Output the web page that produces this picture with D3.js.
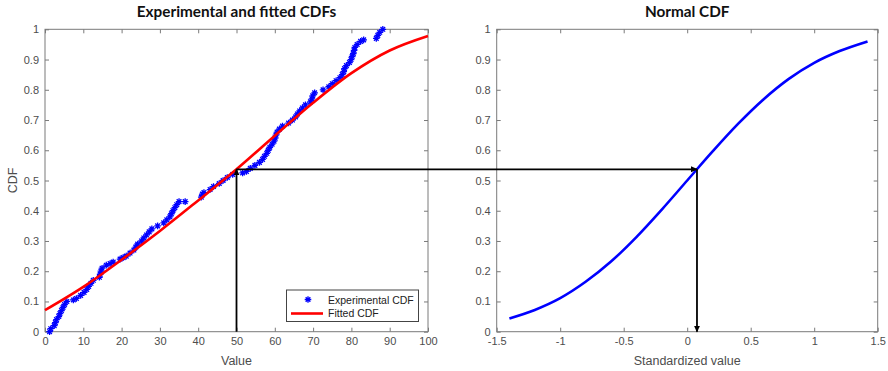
<!DOCTYPE html>
<html>
<head>
<meta charset="utf-8">
<script src="https://cdn.jsdelivr.net/npm/d3@7/dist/d3.min.js"></script>
<style>
  html, body { margin: 0; padding: 0; background: #fff; }
  svg { display: block; }
  .tick text { font-family: "Liberation Sans", Arial, sans-serif; font-size: 11px; fill: #4d4d4d; }
  .tick line { stroke: #7a7a7a; }
</style>
</head>
<body>
<svg id="chart" width="888" height="371"></svg>
<script>
// Experimental CDF samples (sorted values and their cumulative probabilities)
const expValues = [1.2, 1.5, 2.4, 2.7, 3.0, 3.6, 3.9, 4.3, 4.7, 5.1,
  5.7, 7.4, 8.2, 9.3, 10.2, 10.9, 11.4, 12.0, 12.6, 14.2,
  14.4, 14.6, 14.9, 16.0, 17.0, 17.8, 19.6, 20.4, 21.2, 22.2,
  23.2, 23.7, 24.2, 25.2, 25.8, 26.5, 27.2, 27.9, 29.4, 31.0,
  31.8, 32.6, 33.0, 33.4, 33.9, 34.4, 35.0, 36.6, 40.8, 41.1,
  41.5, 43.1, 44.0, 45.5, 46.5, 47.6, 49.0, 51.6, 52.6, 53.6,
  54.8, 56.0, 56.8, 57.3, 57.9, 58.3, 58.7, 59.3, 59.8, 60.1,
  60.3, 60.6, 61.2, 62.0, 63.6, 64.6, 65.4, 65.9, 66.5, 67.2,
  68.0, 69.3, 69.7, 69.9, 70.4, 72.6, 74.1, 75.0, 76.0, 77.0,
  77.6, 78.0, 78.2, 78.7, 79.5, 79.9, 80.2, 80.5, 80.7, 80.9,
  81.5, 82.4, 83.2, 86.5, 86.9, 87.4, 88.2];
const expCdf = [0.000, 0.010, 0.020, 0.030, 0.040, 0.050, 0.060, 0.070, 0.080, 0.090,
  0.100, 0.105, 0.110, 0.120, 0.130, 0.140, 0.150, 0.160, 0.170, 0.180,
  0.190, 0.200, 0.210, 0.220, 0.225, 0.230, 0.240, 0.245, 0.250, 0.260,
  0.270, 0.280, 0.290, 0.300, 0.310, 0.320, 0.330, 0.340, 0.350, 0.360,
  0.370, 0.380, 0.390, 0.400, 0.410, 0.420, 0.430, 0.430, 0.445, 0.455,
  0.460, 0.470, 0.480, 0.490, 0.500, 0.510, 0.520, 0.525, 0.530, 0.540,
  0.550, 0.560, 0.570, 0.580, 0.590, 0.600, 0.610, 0.620, 0.630, 0.640,
  0.650, 0.660, 0.670, 0.680, 0.690, 0.700, 0.710, 0.720, 0.730, 0.740,
  0.750, 0.760, 0.770, 0.780, 0.790, 0.800, 0.810, 0.820, 0.830, 0.840,
  0.850, 0.860, 0.870, 0.880, 0.890, 0.900, 0.910, 0.920, 0.930, 0.940,
  0.950, 0.960, 0.965, 0.970, 0.980, 0.990, 1.000];

// Fitted CDF over the value range
const fitValues = [0, 10, 20, 30, 40, 50, 60, 70, 80, 90, 100];
const fitCdf = [0.071, 0.148, 0.238, 0.333, 0.434, 0.537, 0.648, 0.757, 0.855, 0.930, 0.978];

// Normal CDF against standardized value
const normZ = [-1.4, -1.2, -1.0, -0.8, -0.6, -0.4, -0.2, 0, 0.2, 0.4, 0.6, 0.8, 1.0, 1.2, 1.42];
const normCdf = [0.044, 0.072, 0.111, 0.165, 0.232, 0.313, 0.404, 0.500, 0.596, 0.687, 0.768, 0.836, 0.889, 0.928, 0.960];

// Lookup: value 50 -> probability -> standardized value
const lookupValue = 50;
const lookupCdf = 0.537;
const lookupZ = 0.077;

// Tick labels
const leftXTicks = [0, 10, 20, 30, 40, 50, 60, 70, 80, 90, 100];
const yTicks = [0, 0.1, 0.2, 0.3, 0.4, 0.5, 0.6, 0.7, 0.8, 0.9, 1];
const rightXTicks = [-1.5, -1, -0.5, 0, 0.5, 1, 1.5];

const svg = d3.select("#chart");

const plotTop = 29.3, plotBottom = 331.7;
const xL = d3.scaleLinear().domain([0, 100]).range([45, 428]);
const xR = d3.scaleLinear().domain([-1.5, 1.5]).range([496.7, 877.7]);
const y = d3.scaleLinear().domain([0, 1]).range([plotBottom, plotTop]);

const fmtY = d => d === 0 ? "0" : d === 1 ? "1" : d3.format(".1f")(d);
const fmtX = d => String(d);

function drawAxes(x, xTicks, title, xLabel, yLabel) {
  const g = svg.append("g");
  const [x0, x1] = x.range();
  // bottom
  g.append("g").attr("transform", `translate(0,${plotBottom})`)
    .call(d3.axisBottom(x).tickValues(xTicks).tickFormat(fmtX).tickSizeInner(-4).tickSizeOuter(0).tickPadding(6))
    .call(a => a.select(".domain").remove());
  // top
  g.append("g").attr("transform", `translate(0,${plotTop})`)
    .call(d3.axisTop(x).tickValues(xTicks).tickFormat("").tickSizeInner(-4).tickSizeOuter(0))
    .call(a => a.select(".domain").remove());
  // left
  g.append("g").attr("transform", `translate(${x0},0)`)
    .call(d3.axisLeft(y).tickValues(yTicks).tickFormat(fmtY).tickSizeInner(-4).tickSizeOuter(0).tickPadding(6))
    .call(a => a.select(".domain").remove());
  // right
  g.append("g").attr("transform", `translate(${x1},0)`)
    .call(d3.axisRight(y).tickValues(yTicks).tickFormat("").tickSizeInner(-4).tickSizeOuter(0))
    .call(a => a.select(".domain").remove());
  // box
  g.append("rect").attr("x", x0).attr("y", plotTop).attr("width", x1 - x0).attr("height", plotBottom - plotTop)
    .attr("fill", "none").attr("stroke", "#7a7a7a").attr("stroke-width", 1);
  g.selectAll(".tick text").attr("fill", "#4d4d4d");

  svg.append("text").attr("x", (x0 + x1) / 2).attr("y", 16.5).attr("text-anchor", "middle")
    .attr("font-family", "Lato, 'Open Sans', sans-serif").attr("font-weight", "bold")
    .attr("font-size", 15.3).attr("fill", "#111").text(title);
  svg.append("text").attr("x", (x0 + x1) / 2).attr("y", 365).attr("text-anchor", "middle")
    .attr("font-family", "'Liberation Sans', Arial, sans-serif").attr("font-size", 12.5)
    .attr("fill", "#4d4d4d").text(xLabel);
  if (yLabel) {
    svg.append("text").attr("transform", `translate(16.5,${(plotTop + plotBottom) / 2}) rotate(-90)`)
      .attr("text-anchor", "middle")
      .attr("font-family", "'Liberation Sans', Arial, sans-serif").attr("font-size", 12.5)
      .attr("fill", "#4d4d4d").text(yLabel);
  }
}

drawAxes(xL, leftXTicks, "Experimental and fitted CDFs", "Value", "CDF");
drawAxes(xR, rightXTicks, "Normal CDF", "Standardized value", null);

// Asterisk marker path
function asterisk(r) {
  const d = r * Math.SQRT1_2;
  return `M${-r},0L${r},0M0,${-r}L0,${r}M${-d},${-d}L${d},${d}M${-d},${d}L${d},${-d}`;
}

// Experimental points
const expData = expValues.map((v, i) => ({ v, p: expCdf[i] }));
svg.append("g").selectAll("path").data(expData).join("path")
  .attr("transform", d => `translate(${xL(d.v)},${y(d.p)})`)
  .attr("d", asterisk(3.3))
  .attr("stroke", "#0000ff").attr("stroke-width", 1.3).attr("fill", "none");

// Fitted CDF line
const fitData = fitValues.map((v, i) => ({ v, p: fitCdf[i] }));
svg.append("path").datum(fitData)
  .attr("d", d3.line().x(d => xL(d.v)).y(d => y(d.p)).curve(d3.curveMonotoneX))
  .attr("fill", "none").attr("stroke", "#ff0000").attr("stroke-width", 2.6);

// Normal CDF line
const normData = normZ.map((z, i) => ({ z, p: normCdf[i] }));
svg.append("path").datum(normData)
  .attr("d", d3.line().x(d => xR(d.z)).y(d => y(d.p)).curve(d3.curveMonotoneX))
  .attr("fill", "none").attr("stroke", "#0000ff").attr("stroke-width", 2.6);

// Arrow markers
const defs = svg.append("defs");
defs.append("marker").attr("id", "arrow")
  .attr("viewBox", "0 -4 8 8").attr("refX", 7).attr("refY", 0)
  .attr("markerWidth", 7).attr("markerHeight", 7)
  .attr("markerUnits", "userSpaceOnUse").attr("orient", "auto")
  .append("path").attr("d", "M0,-3.5L8,0L0,3.5Z").attr("fill", "#000");

const px = xL(lookupValue), py = y(lookupCdf), pz = xR(lookupZ);
svg.append("line").attr("x1", px).attr("y1", plotBottom).attr("x2", px).attr("y2", py)
  .attr("stroke", "#000").attr("stroke-width", 1.8).attr("marker-end", "url(#arrow)");
svg.append("line").attr("x1", px).attr("y1", py).attr("x2", pz).attr("y2", py)
  .attr("stroke", "#000").attr("stroke-width", 1.8).attr("marker-end", "url(#arrow)");
svg.append("line").attr("x1", pz).attr("y1", py).attr("x2", pz).attr("y2", plotBottom)
  .attr("stroke", "#000").attr("stroke-width", 1.8).attr("marker-end", "url(#arrow)");

// Legend
const lg = svg.append("g");
lg.append("rect").attr("x", 286.5).attr("y", 290).attr("width", 132).attr("height", 31.5)
  .attr("fill", "#fff").attr("stroke", "#444").attr("stroke-width", 1);
lg.append("path").attr("transform", "translate(308,299.5)").attr("d", asterisk(3.3))
  .attr("stroke", "#0000ff").attr("stroke-width", 1.3).attr("fill", "none");
lg.append("line").attr("x1", 291).attr("x2", 323).attr("y1", 313.5).attr("y2", 313.5)
  .attr("stroke", "#ff0000").attr("stroke-width", 2.6);
lg.append("text").attr("x", 328).attr("y", 303.5)
  .attr("font-family", "'Liberation Sans', Arial, sans-serif").attr("font-size", 10.5)
  .attr("fill", "#222").text("Experimental CDF");
lg.append("text").attr("x", 328).attr("y", 317)
  .attr("font-family", "'Liberation Sans', Arial, sans-serif").attr("font-size", 10.5)
  .attr("fill", "#222").text("Fitted CDF");
</script>
</body>
</html>
